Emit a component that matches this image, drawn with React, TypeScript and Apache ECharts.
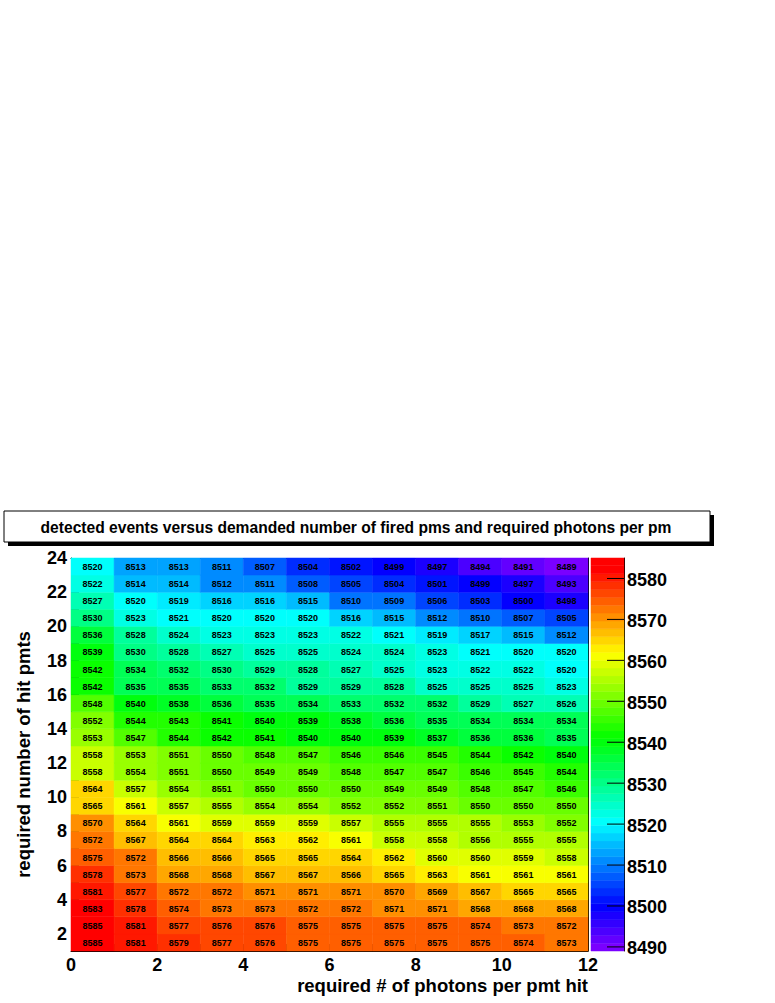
import React, { useEffect, useRef } from "react";
import * as echarts from "echarts";

// bin lower edges
const xBins = [0, 1, 2, 3, 4, 5, 6, 7, 8, 9, 10, 11];
const yBins = [1, 2, 3, 4, 5, 6, 7, 8, 9, 10, 11, 12, 13, 14, 15, 16, 17, 18, 19, 20, 21, 22, 23];

// detected events, one row per y bin (bottom y=1 ... top y=23)
const rowValues: number[][] = [
  [8585, 8581, 8579, 8577, 8576, 8575, 8575, 8575, 8575, 8575, 8574, 8573],
  [8585, 8581, 8577, 8576, 8576, 8575, 8575, 8575, 8575, 8574, 8573, 8572],
  [8583, 8578, 8574, 8573, 8573, 8572, 8572, 8571, 8571, 8568, 8568, 8568],
  [8581, 8577, 8572, 8572, 8571, 8571, 8571, 8570, 8569, 8567, 8565, 8565],
  [8578, 8573, 8568, 8568, 8567, 8567, 8566, 8565, 8563, 8561, 8561, 8561],
  [8575, 8572, 8566, 8566, 8565, 8565, 8564, 8562, 8560, 8560, 8559, 8558],
  [8572, 8567, 8564, 8564, 8563, 8562, 8561, 8558, 8558, 8556, 8555, 8555],
  [8570, 8564, 8561, 8559, 8559, 8559, 8557, 8555, 8555, 8555, 8553, 8552],
  [8565, 8561, 8557, 8555, 8554, 8554, 8552, 8552, 8551, 8550, 8550, 8550],
  [8564, 8557, 8554, 8551, 8550, 8550, 8550, 8549, 8549, 8548, 8547, 8546],
  [8558, 8554, 8551, 8550, 8549, 8549, 8548, 8547, 8547, 8546, 8545, 8544],
  [8558, 8553, 8551, 8550, 8548, 8547, 8546, 8546, 8545, 8544, 8542, 8540],
  [8553, 8547, 8544, 8542, 8541, 8540, 8540, 8539, 8537, 8536, 8536, 8535],
  [8552, 8544, 8543, 8541, 8540, 8539, 8538, 8536, 8535, 8534, 8534, 8534],
  [8548, 8540, 8538, 8536, 8535, 8534, 8533, 8532, 8532, 8529, 8527, 8526],
  [8542, 8535, 8535, 8533, 8532, 8529, 8529, 8528, 8525, 8525, 8525, 8523],
  [8542, 8534, 8532, 8530, 8529, 8528, 8527, 8525, 8523, 8522, 8522, 8520],
  [8539, 8530, 8528, 8527, 8525, 8525, 8524, 8524, 8523, 8521, 8520, 8520],
  [8536, 8528, 8524, 8523, 8523, 8523, 8522, 8521, 8519, 8517, 8515, 8512],
  [8530, 8523, 8521, 8520, 8520, 8520, 8516, 8515, 8512, 8510, 8507, 8505],
  [8527, 8520, 8519, 8516, 8516, 8515, 8510, 8509, 8506, 8503, 8500, 8498],
  [8522, 8514, 8514, 8512, 8511, 8508, 8505, 8504, 8501, 8499, 8497, 8493],
  [8520, 8513, 8513, 8511, 8507, 8504, 8502, 8499, 8497, 8494, 8491, 8489],
];

const colorbarTicks = [8490, 8500, 8510, 8520, 8530, 8540, 8550, 8560, 8570, 8580];
const xTickLabels = [0, 2, 4, 6, 8, 10, 12];
const yTickLabels = [2, 4, 6, 8, 10, 12, 14, 16, 18, 20, 22, 24];

const titleText = "detected events versus demanded number of fired pms and required photons per pm";
const xTitle = "required # of photons per pmt hit";
const yTitle = "required number of hit pmts";

const FONT = '"Liberation Sans", Arial, Helvetica, sans-serif';

// ROOT "pretty" palette: 50 colours, hue 280 -> 0, HLS(l=0.5, s=1)
function hueToHex(h: number): string {
  const f = (n: number) => {
    const k = (n + h / 30) % 12;
    const c = 0.5 - 0.5 * Math.max(-1, Math.min(k - 3, 9 - k, 1));
    return Math.round(c * 255);
  };
  const r = f(0), g = f(8), b = f(4);
  return "#" + [r, g, b].map((v) => v.toString(16).padStart(2, "0")).join("");
}
const NCOL = 50;
const palette: string[] = [];
for (let i = 0; i < NCOL; i++) palette.push(hueToHex(280 - (i + 1) * (280 / NCOL)));

export default function App() {
  const ref = useRef<HTMLDivElement>(null);
  useEffect(() => {
    if (!ref.current) return;
    const chart = echarts.init(ref.current, undefined, { renderer: "svg" });

    const all = rowValues.flat();
    const zmin = Math.min(...all);
    const zmax = Math.max(...all);
    const step = (zmax - zmin) / NCOL;

    const cellData: number[][] = [];
    yBins.forEach((y, r) => {
      xBins.forEach((x, c) => {
        cellData.push([x, y, rowValues[r][c]]);
      });
    });

    const bandData: number[][] = [];
    for (let i = 0; i < NCOL; i++) {
      bandData.push([i, zmin + i * step, zmin + (i + 0.5) * step]);
    }

    // colour index = floor((z - zmin)/step) + 1, clamped to palette
    const pieces = palette.map((color, i) => {
      const p: any = { color };
      p.gte = i === 0 ? zmin - 1000 : zmin + (i - 1 - 0.01) * step;
      if (i === NCOL - 1) p.lte = zmax + 1000;
      else p.lt = zmin + (i - 0.01) * step;
      return p;
    });
    pieces[0].lt = zmin - 0.5;
    pieces[1].gte = zmin - 0.5;

    const labelStyle = {
      color: "#000",
      fontFamily: FONT,
      fontWeight: "bold" as const,
      fontSize: 18,
    };
    const TITLE_SIZE = 18.5;

    chart.setOption({
      animation: false,
      backgroundColor: "#fff",
      visualMap: {
        type: "piecewise",
        show: false,
        dimension: 2,
        seriesIndex: [0, 1],
        pieces,
      },
      grid: [
        { left: 71, top: 558, width: 517, height: 393, show: false },
        { left: 591, top: 558, width: 33, height: 393, show: false },
      ],
      xAxis: [
        {
          type: "value",
          gridIndex: 0,
          min: 0,
          max: 12,
          interval: 1,
          position: "bottom",
          axisLine: { show: true, onZero: false, lineStyle: { color: "#000", width: 1 } },
          axisTick: { show: true, inside: true, length: 7, lineStyle: { color: "#000" } },
          minorTick: { show: true, splitNumber: 2, length: 4, lineStyle: { color: "#000" } },
          splitLine: { show: false },
          axisLabel: {
            ...labelStyle,
            margin: 5,
            formatter: (v: number) => (xTickLabels.includes(v) ? String(v) : ""),
          },
        },
        {
          type: "value",
          gridIndex: 0,
          min: 0,
          max: 12,
          position: "top",
          axisLine: { show: true, onZero: false, lineStyle: { color: "#000", width: 1 } },
          axisTick: { show: false },
          axisLabel: { show: false },
          splitLine: { show: false },
        },
        {
          type: "value",
          gridIndex: 1,
          min: 0,
          max: 1,
          show: false,
        },
      ],
      yAxis: [
        {
          type: "value",
          gridIndex: 0,
          min: 1,
          max: 24,
          interval: 1,
          position: "left",
          name: yTitle,
          nameLocation: "middle",
          nameGap: 38,
          nameTextStyle: { ...labelStyle, fontSize: TITLE_SIZE },
          axisLine: { show: true, onZero: false, lineStyle: { color: "#000", width: 1 } },
          axisTick: { show: true, inside: true, length: 8, lineStyle: { color: "#000" } },
          minorTick: { show: true, splitNumber: 2, length: 4, lineStyle: { color: "#000" } },
          splitLine: { show: false },
          axisLabel: {
            ...labelStyle,
            margin: 4,
            padding: [6, 0, 0, 0],
            formatter: (v: number) => (yTickLabels.includes(v) ? String(v) : ""),
          },
        },
        {
          type: "value",
          gridIndex: 0,
          min: 1,
          max: 24,
          position: "right",
          axisLine: { show: true, onZero: false, lineStyle: { color: "#000", width: 1 } },
          axisTick: { show: false },
          axisLabel: { show: false },
          splitLine: { show: false },
        },
        {
          type: "value",
          gridIndex: 1,
          min: zmin,
          max: zmax,
          position: "right",
          axisLine: { show: true, onZero: false, lineStyle: { color: "#000", width: 1 } },
          axisTick: { show: false },
          axisLabel: { show: false },
          splitLine: { show: false },
        },
      ],
      series: [
        {
          type: "custom",
          xAxisIndex: 0,
          yAxisIndex: 0,
          data: cellData,
          encode: { x: 0, y: 1 },
          renderItem: (_params: any, api: any) => {
            const x = api.value(0);
            const y = api.value(1);
            const v = api.value(2);
            const p0 = api.coord([x, y + 1]);
            const p1 = api.coord([x + 1, y]);
            const color = api.visual("color");
            return {
              type: "group",
              children: [
                {
                  type: "rect",
                  shape: { x: p0[0], y: p0[1], width: p1[0] - p0[0], height: p1[1] - p0[1] },
                  style: { fill: color, stroke: color, lineWidth: 0.5 },
                },
                {
                  type: "text",
                  z2: 10,
                  style: {
                    text: String(v),
                    x: (p0[0] + p1[0]) / 2,
                    y: (p0[1] + p1[1]) / 2 + 0.5,
                    align: "center",
                    verticalAlign: "middle",
                    fill: "#000",
                    fontSize: 9,
                    fontWeight: "bold",
                    fontFamily: FONT,
                  },
                },
              ],
            };
          },
        },
        {
          type: "custom",
          xAxisIndex: 2,
          yAxisIndex: 2,
          data: bandData,
          encode: { x: 0, y: 1 },
          renderItem: (_params: any, api: any) => {
            const lo = api.value(1);
            const p0 = api.coord([0, lo + step]);
            const p1 = api.coord([1, lo]);
            const color = api.visual("color");
            return {
              type: "rect",
              shape: { x: p0[0], y: p0[1], width: p1[0] - p0[0], height: p1[1] - p0[1] },
              style: { fill: color, stroke: color, lineWidth: 0.5 },
            };
          },
        },
        {
          type: "custom",
          xAxisIndex: 2,
          yAxisIndex: 2,
          data: colorbarTicks.map((t) => [1, t]),
          encode: { x: 0, y: 1 },
          z: 5,
          renderItem: (_params: any, api: any) => {
            const v = api.value(1);
            const p = api.coord([1, v]);
            return {
              type: "group",
              children: [
                {
                  type: "line",
                  shape: { x1: p[0] - 17, y1: p[1], x2: p[0], y2: p[1] },
                  style: { stroke: "#000", lineWidth: 1 },
                },
                {
                  type: "text",
                  style: {
                    text: String(v),
                    x: p[0] + 3,
                    y: p[1] + 1.5,
                    align: "left",
                    verticalAlign: "middle",
                    fill: "#000",
                    fontSize: 18,
                    fontWeight: "bold",
                    fontFamily: FONT,
                  },
                },
              ],
            };
          },
        },
      ],
      graphic: [
        {
          type: "rect",
          shape: { x: 8, y: 515, width: 706, height: 31 },
          style: { fill: "#000" },
        },
        {
          type: "rect",
          shape: { x: 4, y: 511, width: 706, height: 31 },
          style: { fill: "#fff", stroke: "#000", lineWidth: 1 },
        },
        {
          type: "text",
          style: {
            text: titleText,
            x: 356,
            y: 527,
            align: "center",
            verticalAlign: "middle",
            fill: "#000",
            fontSize: 15.6,
            fontWeight: "bold",
            fontFamily: FONT,
          },
        },
        {
          type: "text",
          style: {
            text: xTitle,
            x: 588,
            y: 985,
            align: "right",
            verticalAlign: "middle",
            fill: "#000",
            fontSize: TITLE_SIZE,
            fontWeight: "bold",
            fontFamily: FONT,
          },
        },
      ],
    });
    return () => chart.dispose();
  }, []);
  return (
    <div
      ref={ref}
      style={{ position: "absolute", left: 0, top: 0, width: 775, height: 1003 }}
    />
  );
}
